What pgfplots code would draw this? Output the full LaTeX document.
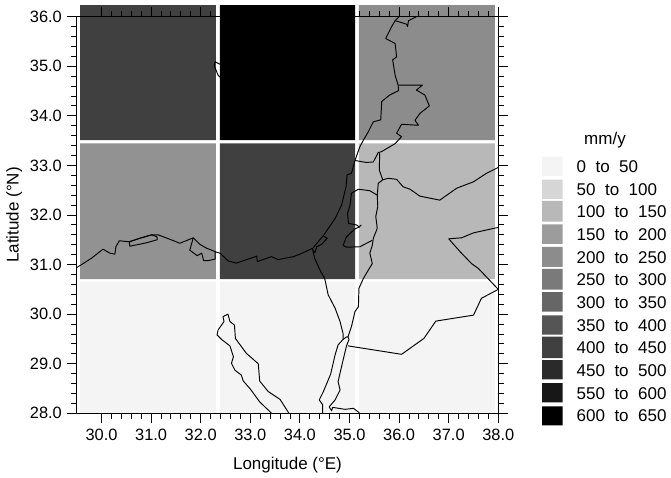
\documentclass[border=0pt]{standalone}
\usepackage{fontspec}
\setmainfont{Liberation Sans}
\usepackage{pgfplots}
\pgfplotsset{compat=1.18}
\newcommand{\swatch}[3]{\addplot[fill=#3,draw=none,forget plot] coordinates {(542,#1) (562.7,#1) (562.7,#2) (542,#2) (542,#1)};}
\definecolor{c1}{HTML}{F4F4F4}\definecolor{c2}{HTML}{D6D6D6}\definecolor{c3}{HTML}{B8B8B8}
\definecolor{c4}{HTML}{9C9C9C}\definecolor{c5}{HTML}{8C8C8C}\definecolor{c6}{HTML}{7A7A7A}
\definecolor{c7}{HTML}{666666}\definecolor{c8}{HTML}{555555}\definecolor{c9}{HTML}{404040}
\definecolor{c10}{HTML}{2A2A2A}\definecolor{c11}{HTML}{171717}\definecolor{c12}{HTML}{000000}
\definecolor{cell4}{HTML}{929292}
\pgfplotsset{map/.style={black,line width=0.95pt,line join=round,no markers,forget plot}}
\tikzset{leg/.style={font=\fontsize{17}{19}\selectfont,anchor=base west,inner sep=0pt}}
\begin{document}
\begin{tikzpicture}[x=1pt,y=1pt]
\useasboundingbox (0,0) rectangle (671,477);
\begin{axis}[
  at={(76.7pt,63.7pt)},anchor=south west,
  scale only axis,width=421.6pt,height=396.6pt,
  xmin=29.5,xmax=38,ymin=28,ymax=36,
  clip=false,axis on top,
  xtick={30,31,32,33,34,35,36,37,38},
  ytick={28,29,30,31,32,33,34,35,36},
  minor tick num=4,
  tick align=outside,
  major tick length=9.3pt,minor tick length=5.8pt,
  every tick/.style={black,line width=0.9pt},
  axis line style={black,line width=1pt},
  tick label style={font=\fontsize{16.4}{18}\selectfont},
  xticklabel style={yshift=-3pt},
  yticklabel style={xshift=-2pt},
  label style={font=\fontsize{17}{19}\selectfont},
  /pgf/number format/assume math mode=true,
  /pgf/number format/fixed,/pgf/number format/fixed zerofill,/pgf/number format/precision=1,
  xlabel={Longitude (°E)},ylabel={Latitude (°N)},
  xlabel style={at={(axis description cs:0.5,0)},yshift=-40pt,anchor=north},
  ylabel style={at={(axis description cs:0,0.5)},yshift=51pt,anchor=south},
]
% rainfall cells
\addplot[fill=c9,draw=none,forget plot] coordinates {(29.57,33.512) (32.305,33.512) (32.305,36.235) (29.57,36.235) (29.57,33.512)};
\addplot[fill=black,draw=none,forget plot] coordinates {(32.386,33.512) (35.114,33.512) (35.114,36.235) (32.386,36.235) (32.386,33.512)};
\addplot[fill=c5,draw=none,forget plot] coordinates {(35.19,33.512) (37.93,33.512) (37.93,36.235) (35.19,36.235) (35.19,33.512)};
\addplot[fill=cell4,draw=none,forget plot] coordinates {(29.57,30.709) (32.305,30.709) (32.305,33.446) (29.57,33.446) (29.57,30.709)};
\addplot[fill=c9,draw=none,forget plot] coordinates {(32.386,30.709) (35.114,30.709) (35.114,33.446) (32.386,33.446) (32.386,30.709)};
\addplot[fill=c3,draw=none,forget plot] coordinates {(35.19,30.709) (37.93,30.709) (37.93,33.446) (35.19,33.446) (35.19,30.709)};
\addplot[fill=c1,draw=none,forget plot] coordinates {(29.57,28) (32.305,28) (32.305,30.654) (29.57,30.654) (29.57,28)};
\addplot[fill=c1,draw=none,forget plot] coordinates {(32.386,28) (35.114,28) (35.114,30.654) (32.386,30.654) (32.386,28)};
\addplot[fill=c1,draw=none,forget plot] coordinates {(35.19,28) (37.93,28) (37.93,30.654) (35.19,30.654) (35.19,28)};
% coast
\addplot[map] coordinates {(29.50,30.94)(29.63,31.02)(29.80,31.13)(30.03,31.31)(30.17,31.23)(30.27,31.21)(30.29,31.36)(30.36,31.48)(30.56,31.46)(30.77,31.53)(31.01,31.60)(31.14,31.60)(31.38,31.51)(31.58,31.43)(31.85,31.54)(31.98,31.41)(32.12,31.33)(32.32,31.25)(32.39,31.23)(32.56,31.07)(32.72,31.03)(33.13,31.17)(33.14,31.06)(33.43,31.16)(33.56,31.10)(33.87,31.16)(34.00,31.21)(34.26,31.33)(34.47,31.58)(34.71,31.93)(34.84,32.20)(34.93,32.57)(34.95,32.81)(35.04,32.84)(35.11,33.10)(35.21,33.38)(35.28,33.51)(35.38,33.68)(35.48,33.88)(35.63,33.92)(35.65,34.29)(35.81,34.42)(35.99,34.51)(35.98,34.62)(35.92,34.82)(35.87,35.13)(35.95,35.19)(35.92,35.46)(35.73,35.56)(35.85,35.80)(35.92,35.92)(36.15,35.85)(36.17,35.80)(36.19,35.92)(36.35,36.00)};
\addplot[map] coordinates {(35.92,35.92)(36.00,36.00)};
% Lebanon and Syria
\addplot[map] coordinates {(35.99,34.62)(36.47,34.62)(36.35,34.52)(36.52,34.42)(36.61,34.20)(36.42,34.05)(36.32,33.91)(36.39,33.81)(36.05,33.83)(35.95,33.65)(36.05,33.58)(35.92,33.44)(35.65,33.28)(35.58,33.26)(35.48,33.07)(35.34,33.06)(35.11,33.10)};
% Jordan valley
\addplot[map] coordinates {(35.61,33.26)(35.60,32.91)(35.67,32.71)(35.58,32.64)(35.56,32.40)(35.57,32.17)(35.53,31.97)(35.56,31.73)(35.48,31.53)(35.46,31.39)(35.41,31.23)(35.46,31.02)(35.38,30.89)(35.28,30.72)(35.19,30.52)(35.18,30.15)(35.11,30.05)(35.04,29.75)(34.97,29.54)};
% Jordan borders
\addplot[map] coordinates {(35.67,32.71)(35.78,32.74)(35.95,32.72)(36.08,32.57)(36.22,32.52)(36.42,32.38)(36.62,32.34)(36.82,32.30)(37.16,32.54)(37.50,32.67)(37.76,32.84)(38.00,32.96)};
\addplot[map] coordinates {(38.00,31.75)(37.50,31.64)(37.26,31.54)(37.00,31.52)(37.23,31.26)(37.46,31.02)(37.60,30.92)(38.00,30.50)(37.66,30.32)(37.50,29.98)(36.74,29.86)(36.50,29.51)(36.05,29.19)(34.97,29.36)};
% West Bank
\addplot[map] coordinates {(35.56,32.40)(35.41,32.49)(35.18,32.52)(35.04,32.44)(35.01,32.20)(34.96,32.03)(34.98,31.83)(35.14,31.80)(35.20,31.76)(35.24,31.80)};
\addplot[map] coordinates {(35.20,31.76)(35.11,31.72)(34.94,31.56)(34.87,31.39)(34.94,31.35)(35.21,31.36)(35.46,31.49)};
% Gaza and Sinai border
\addplot[map] coordinates {(34.47,31.58)(34.55,31.53)(34.44,31.41)(34.34,31.36)(34.30,31.24)(34.24,31.33)};
\addplot[map] coordinates {(34.26,31.28)(34.30,31.12)(34.42,30.86)(34.50,30.72)(34.57,30.39)(34.71,30.12)(34.81,29.85)(34.87,29.61)(34.87,29.49)(34.77,29.38)(34.71,29.18)(34.62,28.79)(34.47,28.43)(34.39,28.27)(34.46,28.17)(34.46,28.00)};
% Gulf of Aqaba
\addplot[map] coordinates {(34.87,29.49)(34.94,29.54)(34.97,29.54)(34.99,29.49)(34.94,29.36)(34.87,29.07)(34.77,28.64)(34.81,28.47)(34.71,28.27)(34.59,28.13)(34.64,28.05)(34.66,28.12)(34.91,28.08)(35.08,28.10)(35.20,28.01)};
% Gulf of Suez
\addplot[map] coordinates {(33.43,28.00)(33.19,28.23)(33.00,28.49)(32.86,28.65)(32.82,28.77)(32.69,28.87)(32.62,29.01)(32.66,29.14)(32.59,29.36)(32.42,29.49)(32.33,29.58)(32.35,29.68)(32.47,29.85)(32.45,29.95)(32.55,30.00)(32.59,29.85)(32.68,29.78)(32.70,29.51)(32.92,29.21)(33.16,29.00)(33.19,28.65)(33.36,28.44)(33.60,28.28)(33.78,28.00)};
% delta lakes
\addplot[map] coordinates {(30.56,31.46)(30.77,31.53)(31.01,31.60)(31.12,31.56)(31.12,31.50)(30.91,31.44)(30.57,31.37)(30.56,31.46)};
\addplot[map] coordinates {(31.85,31.54)(31.78,31.29)(31.93,31.18)(32.02,31.23)(32.06,31.08)(32.15,31.08)(32.29,31.11)(32.29,31.25)};
% Cyprus tip
\addplot[map] coordinates {(32.39,35.04)(32.29,35.09)(32.27,35.02)(32.35,34.82)(32.39,34.78)};
\end{axis}
\begin{axis}[
  at={(0pt,0pt)},anchor=south west,
  scale only axis,width=671pt,height=477pt,
  xmin=0,xmax=671,ymin=0,ymax=477,
  hide axis,clip=false,
]
\swatch{320.3}{301}{c1}
\swatch{297.3}{278}{c2}
\swatch{276}{255.3}{c3}
\swatch{252.7}{233}{c4}
\swatch{230}{210}{c5}
\swatch{208}{187.3}{c6}
\swatch{185}{165.3}{c7}
\swatch{161.7}{142.3}{c8}
\swatch{140.3}{119}{c9}
\swatch{117}{97.7}{c10}
\swatch{94}{74.7}{c11}
\swatch{70.7}{51.7}{c12}
\node[leg] at (axis cs:584,332) {mm/y};
\node[leg] at (axis cs:576.5,304.5) {0\ \ to\ \ 50};
\node[leg] at (axis cs:576.5,281.5) {50\ \ to\ \ 100};
\node[leg] at (axis cs:576.5,259.5) {100\ \ to\ \ 150};
\node[leg] at (axis cs:576.5,236.5) {150\ \ to\ \ 200};
\node[leg] at (axis cs:576.5,213.5) {200\ \ to\ \ 250};
\node[leg] at (axis cs:576.5,191.5) {250\ \ to\ \ 300};
\node[leg] at (axis cs:576.5,168.5) {300\ \ to\ \ 350};
\node[leg] at (axis cs:576.5,145.5) {350\ \ to\ \ 400};
\node[leg] at (axis cs:576.5,123.5) {400\ \ to\ \ 450};
\node[leg] at (axis cs:576.5,100.5) {450\ \ to\ \ 500};
\node[leg] at (axis cs:576.5,77.5) {550\ \ to\ \ 600};
\node[leg] at (axis cs:576.5,55.5) {600\ \ to\ \ 650};
\end{axis}
\end{tikzpicture}
\end{document}
